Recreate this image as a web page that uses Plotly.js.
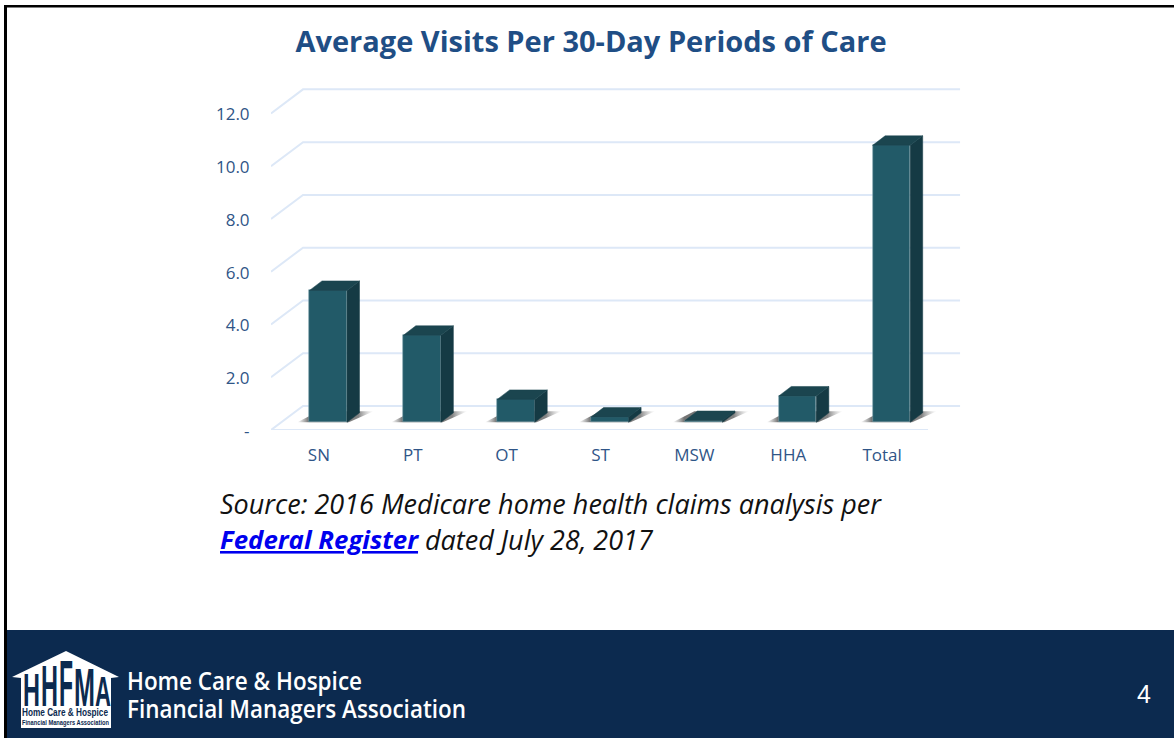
<!DOCTYPE html>
<html><head><meta charset="utf-8">
<script src="https://cdn.plot.ly/plotly-3.0.1.min.js"></script>
<style>html,body{margin:0;padding:0;background:#fff;overflow:hidden}#wrap{position:relative;width:1174px;height:738px}#chart{width:1174px;height:738px}#logo{position:absolute;left:0;top:0;pointer-events:none}</style>
</head><body><div id="wrap"><div id="chart"></div>
<svg id="logo" width="1174" height="738" xmlns="http://www.w3.org/2000/svg"></svg></div>
<script>
var categories = ["SN","PT","OT","ST","MSW","HHA","Total"];
var visits = [5.0,3.3,0.87,0.2,0.07,1.0,10.5];
var tickValues = [0,2,4,6,8,10,12];
var tickLabels = ["-","2.0","4.0","6.0","8.0","10.0","12.0"];

var W=1174,H=738,mL=271,mR=213,mT=87,mB=308;
var xMin=-0.5, xMax=6.851, yMin=0, yMax=13;
var GRID='#dde8f7', FRONT='#225a68', SIDE='#153a44', TOP='#1b454f', NAVY='#0c2a4f';
var gridDx=0.341, gridDy=0.91;
var barW=0.40, barOffX=0.11, barBase=0.29, barDx=0.133, barDy=0.36;
var px=function(x){return (x-mL)/(W-mL-mR);};
var py=function(y){return 1-(y-mT)/(H-mT-mB);};
var indices=categories.map(function(_,i){return i;});

// grid "walls" behind the bars
var gx=[],gy=[];
tickValues.forEach(function(v){
  gx.push(xMin,xMin+gridDx,xMax-0.01,null);
  gy.push(v,v+gridDy,v+gridDy,null);
});
gx.push(xMin,6.5,null); gy.push(0,0,null);
var traces=[{type:'scatter',mode:'lines',x:gx,y:gy,line:{color:GRID,width:2},cliponaxis:false,hoverinfo:'skip',showlegend:false,xaxis:'x',yaxis:'y'}];

// floor shadows
indices.forEach(function(i){
  var l=i+barOffX-barW/2, r=l+barW;
  traces.push({type:'scatter',mode:'lines',xaxis:'x',yaxis:'y',hoverinfo:'skip',showlegend:false,
    x:[l-0.13,r+0.02,r+barDx+0.15,l+0.1,l-0.13],
    y:[barBase,barBase,barBase+0.42,barBase+0.42,barBase],
    line:{width:0},fill:'toself',
    fillgradient:{type:'horizontal',colorscale:[[0,'rgba(120,120,120,0)'],[0.15,'rgba(80,80,80,0.8)'],[0.8,'rgba(90,90,90,0.75)'],[1,'rgba(170,170,170,0)']]}});
});

// bars: front face with library bars, side and top faces from the same values
traces.push({type:'bar',x:indices.map(function(i){return i+barOffX;}),y:visits,base:barBase,width:barW,
  marker:{color:FRONT,line:{color:'#7fa3ad',width:0.6}},hoverinfo:'skip',showlegend:false,xaxis:'x2',yaxis:'y2'});
indices.forEach(function(i){
  var l=i+barOffX-barW/2, r=l+barW, b=barBase, t=barBase+visits[i];
  traces.push({type:'scatter',mode:'lines',xaxis:'x2',yaxis:'y2',hoverinfo:'skip',showlegend:false,
    x:[r,r+barDx,r+barDx,r,r],y:[b,b+barDy,t+barDy,t,b],fill:'toself',fillcolor:SIDE,line:{width:0.5,color:SIDE}});
  traces.push({type:'scatter',mode:'lines',xaxis:'x2',yaxis:'y2',hoverinfo:'skip',showlegend:false,
    x:[l,r,r+barDx,l+barDx,l],y:[t,t,t+barDy,t+barDy,t],fill:'toself',fillcolor:TOP,line:{width:0.5,color:TOP}});
});

var tickFont={family:'"Open Sans",sans-serif',size:17,color:'#2f5587'};
var bodyFont={family:'"Open Sans",sans-serif',size:27,color:'#111'};
var layout={
  width:W,height:H,autosize:false,paper_bgcolor:'#fff',plot_bgcolor:'rgba(0,0,0,0)',showlegend:false,
  margin:{l:mL,r:mR,t:mT,b:mB,pad:0},bargap:0,hovermode:false,
  title:{text:'<b>Average Visits Per 30-Day Periods of Care</b>',xref:'container',yref:'container',x:591/W,y:1-42/H,xanchor:'center',yanchor:'middle',
    font:{family:'"Open Sans",sans-serif',size:29,color:'#1f4e85'}},
  xaxis:{range:[xMin,xMax],tickmode:'array',tickvals:indices,ticktext:categories,showgrid:false,zeroline:false,showline:false,
    ticks:'outside',ticklen:10,tickcolor:'rgba(0,0,0,0)',tickfont:tickFont,ticklabelshift:1},
  yaxis:{range:[yMin,yMax],tickmode:'array',tickvals:tickValues,ticktext:tickLabels,showgrid:false,zeroline:false,showline:false,
    ticks:'outside',ticklen:17,tickcolor:'rgba(0,0,0,0)',tickfont:tickFont,ticklabelshift:1},
  xaxis2:{range:[xMin,xMax],overlaying:'x',visible:false},
  yaxis2:{range:[yMin,yMax],overlaying:'y',visible:false},
  shapes:[
    {type:'rect',xref:'paper',yref:'paper',x0:px(7),x1:px(W),y0:py(630),y1:py(H),fillcolor:NAVY,line:{width:0},layer:'below'},
    {type:'rect',xref:'paper',yref:'paper',x0:px(4),x1:px(W),y0:py(5),y1:py(7.5),fillcolor:'#000',line:{width:0},layer:'below'},
    {type:'rect',xref:'paper',yref:'paper',x0:px(4),x1:px(7),y0:py(5),y1:py(H),fillcolor:'#000',line:{width:0},layer:'below'},
    {type:'path',xref:'paper',yref:'paper',fillcolor:'#fff',line:{width:0},layer:'above',
      path:'M '+px(12)+' '+py(677)+' L '+px(66)+' '+py(651)+' L '+px(119)+' '+py(677)+' L '+px(111)+' '+py(678)+' L '+px(111)+' '+py(728)+' L '+px(21)+' '+py(728)+' L '+px(21)+' '+py(678)+' Z'}
  ],
  annotations:[
    {text:'<i>Source: 2016 Medicare home health claims analysis per</i>',xref:'paper',yref:'paper',x:px(218),y:py(503),xanchor:'left',yanchor:'middle',showarrow:false,font:bodyFont},
    {text:'<a href="https://www.federalregister.gov/" style="color:#0000ee"><b><i><u>Federal Register</u></i></b></a>',xref:'paper',yref:'paper',x:px(218),y:py(539),xanchor:'left',yanchor:'middle',showarrow:false,
      font:{family:'"Open Sans",sans-serif',size:25.8,color:'#0000ee'}},
    {text:'<i>dated July 28, 2017</i>',xref:'paper',yref:'paper',x:px(423),y:py(539),xanchor:'left',yanchor:'middle',showarrow:false,font:bodyFont},
    {text:'4',xref:'paper',yref:'paper',x:px(1144),y:py(694),xanchor:'center',yanchor:'middle',showarrow:false,
      font:{family:'"Liberation Sans",sans-serif',size:25,color:'#fff'}}
  ]
};
Plotly.newPlot('chart',traces,layout,{displayModeBar:false,responsive:false});

// footer and logo lettering fitted to the widths they occupy
var SVGNS='http://www.w3.org/2000/svg', svg=document.getElementById('logo');
function addText(str,x,y,len,size,weight,fill,family){
  var t=document.createElementNS(SVGNS,'text');
  t.textContent=str;
  t.setAttribute('x',x);t.setAttribute('y',y);
  t.setAttribute('textLength',len);t.setAttribute('lengthAdjust','spacingAndGlyphs');
  t.setAttribute('font-family',family);t.setAttribute('font-size',size);t.setAttribute('font-weight',weight);t.setAttribute('fill',fill);
  svg.appendChild(t);return t;
}
addText('Home Care & Hospice',127,689.5,235,26,600,'#fff','"Open Sans",sans-serif');
addText('Financial Managers Association',127,718,339,26,600,'#fff','"Open Sans",sans-serif');
addText('Home Care & Hospice',22,716,86,10,700,NAVY,'"Liberation Sans",sans-serif');
addText('Financial Managers Association',22,724.5,87,6.5,700,NAVY,'"Liberation Sans",sans-serif');
var logoLetters=[["H",23,17,33],["H",41,17,41],["F",59,14,46],["M",74,21,39],["A",95,16,30]];
logoLetters.forEach(function(d){
  var t=addText(d[0],0,0,10,10,700,NAVY,'"Liberation Sans",sans-serif');
  t.removeAttribute('textLength');t.removeAttribute('lengthAdjust');t.removeAttribute('x');t.removeAttribute('y');
  var w=t.getComputedTextLength()||7;
  t.setAttribute('transform','translate('+d[1]+',706) scale('+(d[2]/w)+','+(d[3]/7.2)+')');
});
</script></body></html>
